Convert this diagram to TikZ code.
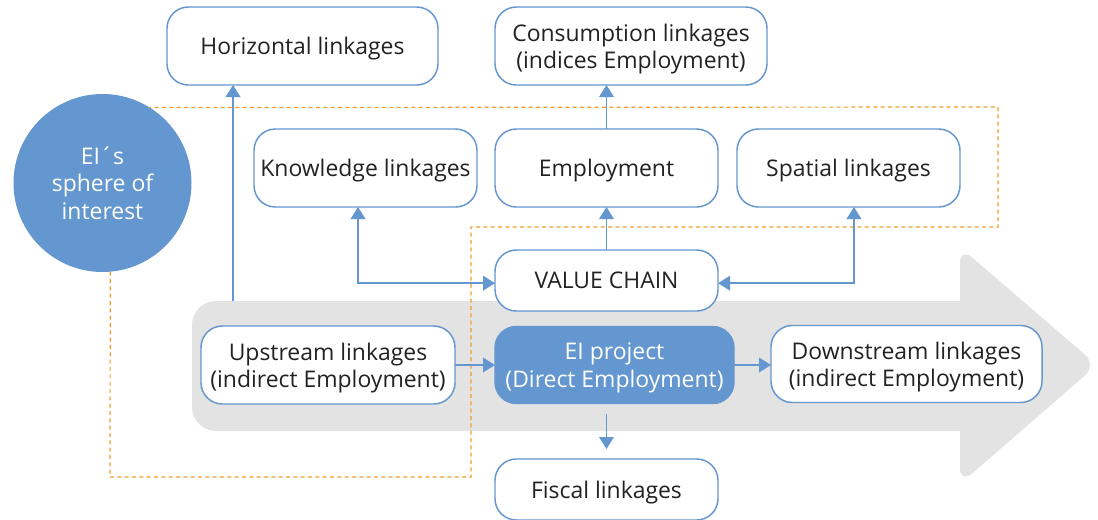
\documentclass[tikz,border=0pt]{standalone}
\usepackage{fontspec}
\setmainfont{Open Sans}
\usetikzlibrary{arrows.meta}
\definecolor{linkblue}{HTML}{6497CF}
\definecolor{arrowgray}{HTML}{E3E3E3}
\definecolor{sphereorange}{HTML}{F29B2C}
\definecolor{textdark}{HTML}{222222}

\begin{document}
\begin{tikzpicture}[x=0.75pt,y=-0.75pt,
	box/.style={draw=linkblue, line width=1.1pt, fill=white, rounded corners=16pt, align=center, inner sep=0pt, outer sep=0pt, text depth=-1.5pt, text=textdark, font=\fontsize{17.2}{20.5}\selectfont},
	link/.style={draw=linkblue, line width=1.2pt, -{Triangle[width=11pt,length=9pt]}},
	both/.style={{Triangle[width=11pt,length=9pt]}-{Triangle[width=11pt,length=9pt]}},
	sphere/.style={dash pattern=on 3pt off 2.5pt, draw=sphereorange, line width=0.9pt}]
	\useasboundingbox (0,0) rectangle (1098,519);
	% big grey arrow behind the chain
	\fill[arrowgray, rounded corners=18pt] (192,301) rectangle (985,431);
	\fill[arrowgray, rounded corners=12pt] (960,247) -- (1097,365) -- (960,484) -- cycle;
	% sphere of interest
	\node[circle, fill=linkblue, minimum size=133.5pt, inner sep=0pt, outer sep=0pt, align=center, text depth=-1.5pt, text=white, font=\fontsize{17.2}{20.5}\selectfont] (circ) at (102.5,183) {EI´s\\sphere of\\interest};
	\draw[sphere] (circ.-85) -- (110,477) -- (471,477) -- (471,227) -- (998,227) -- (998,107) -- (circ.58.6);
	% boxes
	\node[box, minimum width=203.25pt, minimum height=58.5pt] (hor) at (302.5,46) {Horizontal linkages};
	\node[box, minimum width=204pt, minimum height=58.5pt] (cons) at (631,46) {Consumption linkages\\(indices Employment)};
	\node[box, minimum width=167.25pt, minimum height=58.5pt] (know) at (365.5,168) {Knowledge linkages};
	\node[box, minimum width=167.25pt, minimum height=58.5pt] (emp) at (606.5,168) {Employment};
	\node[box, minimum width=167.25pt, minimum height=58.5pt] (spa) at (848.5,168) {Spatial linkages};
	\node[box, minimum width=167.25pt, minimum height=45.75pt] (vc) at (606.5,280.5) {VALUE CHAIN};
	\node[box, minimum width=190.5pt, minimum height=58.5pt] (up) at (328,365) {Upstream linkages\\(indirect Employment)};
	\node[box, fill=linkblue, text=white, minimum width=179.25pt, minimum height=57.75pt] (ei) at (614.5,365) {EI project\\(Direct Employment)};
	\node[box, minimum width=203.25pt, minimum height=57.75pt] (down) at (906.5,364) {Downstream linkages\\(indirect Employment)};
	\node[box, minimum width=167.25pt, minimum height=45.75pt] (fis) at (606.5,489.5) {Fiscal linkages};
	% linkages
	\coordinate (hstart) at (233,301);
	\draw[link] (hstart) -- (hstart |- hor.south);
	\draw[link] (emp.north) -- (emp.north |- cons.south);
	\draw[link] (vc.north) -- (emp.south);
	\draw[link, both] ([xshift=-5.6pt]know.south) |- ([yshift=-2pt]vc.west);
	\draw[link, both] ([xshift=4.1pt]spa.south) |- ([yshift=-2pt]vc.east);
	\draw[link] (up.east) -- (ei.west);
	\draw[link] (ei.east) -- (ei.east -| down.west);
	\draw[link, shorten <=7.5pt, shorten >=7.5pt] (ei.south -| fis.north) -- (fis.north);
\end{tikzpicture}
\end{document}
